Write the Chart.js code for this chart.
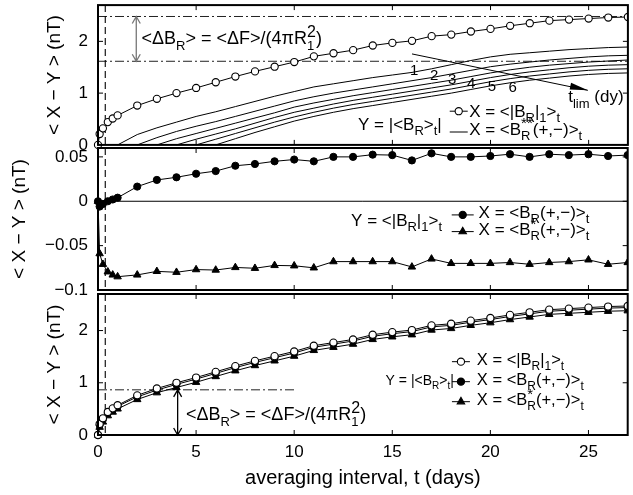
<!DOCTYPE html>
<html lang="en">
<head>
<meta charset="UTF-8">
<title>X - Y averages</title>
<script src="https://cdn.jsdelivr.net/npm/chart.js"></script>
<style>
  body { margin: 0; background: #fff; }
  #wrap { position: relative; width: 633px; height: 495px; }
  canvas { position: absolute; left: 0; }
</style>
</head>
<body>
<div id="wrap">
  <canvas id="top" width="633" height="150" style="top:0"></canvas>
  <canvas id="mid" width="633" height="160" style="top:140px"></canvas>
  <canvas id="bot" width="633" height="210" style="top:285px"></canvas>
</div>
<script>
// averaging interval t (days)
const tDays = [0, 0.083, 0.25, 0.5, 0.75, 1, 2, 3, 4, 5, 6, 7, 8, 9, 10, 11, 12, 13, 14, 15, 16, 17, 18, 19, 20, 21, 22, 23, 24, 25, 26, 27];
// X = <|B_R|_1>_t  (open circles, top and bottom panels)
const openVals = [0, 0.21, 0.32, 0.44, 0.51, 0.57, 0.76, 0.89, 1.0, 1.10, 1.21, 1.32, 1.42, 1.51, 1.60, 1.71, 1.77, 1.83, 1.92, 1.97, 2.01, 2.10, 2.13, 2.19, 2.24, 2.30, 2.35, 2.40, 2.42, 2.44, 2.46, 2.47];
// bottom panel: X = <B_R(+,-)>_t and X = <B_R*(+,-)>_t
const filledBot = [0, 0.19, 0.30, 0.42, 0.49, 0.55, 0.73, 0.86, 0.97, 1.07, 1.18, 1.29, 1.39, 1.48, 1.57, 1.68, 1.74, 1.80, 1.89, 1.94, 1.98, 2.07, 2.10, 2.16, 2.21, 2.27, 2.32, 2.37, 2.39, 2.41, 2.43, 2.44];
const triBot = [0, 0.15, 0.25, 0.37, 0.44, 0.50, 0.68, 0.81, 0.91, 1.01, 1.12, 1.23, 1.33, 1.42, 1.51, 1.62, 1.68, 1.74, 1.83, 1.88, 1.92, 2.01, 2.04, 2.10, 2.15, 2.21, 2.26, 2.31, 2.33, 2.35, 2.37, 2.38];
// middle panel, Y = <|B_R|_1>_t
const filledMid = [0, -0.006, -0.003, 0.0, 0.002, 0.004, 0.0165, 0.024, 0.027, 0.031, 0.034, 0.040, 0.042, 0.045, 0.047, 0.045, 0.050, 0.050, 0.0525, 0.052, 0.046, 0.054, 0.050, 0.050, 0.051, 0.053, 0.050, 0.053, 0.052, 0.053, 0.051, 0.052];
const triMid = [0, -0.059, -0.071, -0.0795, -0.083, -0.085, -0.083, -0.079, -0.080, -0.077, -0.0775, -0.0746, -0.0755, -0.0723, -0.0727, -0.075, -0.068, -0.068, -0.068, -0.068, -0.074, -0.065, -0.070, -0.070, -0.070, -0.069, -0.071, -0.069, -0.068, -0.066, -0.071, -0.069];

// X = <B_R**(+,-)>_t for t_lim = 1..6 (top panel thin lines)
const tFam = [1, 2, 3, 4, 5, 6, 7, 8, 9, 10, 11, 12, 13, 14, 15, 16, 17, 18, 19, 20, 21, 22, 23, 24, 25, 26, 27];
const fam1 = [0, 0.20, 0.33, 0.44, 0.55, 0.64, 0.74, 0.84, 0.94, 1.03, 1.12, 1.18, 1.24, 1.30, 1.35, 1.40, 1.47, 1.55, 1.63, 1.70, 1.75, 1.78, 1.81, 1.84, 1.86, 1.88, 1.89];
const fam2 = [null, 0, 0.14, 0.26, 0.36, 0.45, 0.55, 0.65, 0.75, 0.85, 0.93, 1.00, 1.06, 1.12, 1.18, 1.24, 1.30, 1.37, 1.44, 1.51, 1.56, 1.60, 1.64, 1.67, 1.70, 1.72, 1.73];
const fam3 = [null, null, 0, 0.12, 0.22, 0.32, 0.42, 0.52, 0.62, 0.73, 0.81, 0.88, 0.95, 1.01, 1.07, 1.13, 1.19, 1.25, 1.32, 1.39, 1.45, 1.50, 1.54, 1.57, 1.60, 1.62, 1.64];
const fam4 = [null, null, null, 0, 0.11, 0.21, 0.31, 0.42, 0.53, 0.63, 0.71, 0.79, 0.86, 0.92, 0.98, 1.04, 1.10, 1.16, 1.23, 1.30, 1.36, 1.41, 1.45, 1.49, 1.52, 1.54, 1.55];
const fam5 = [null, null, null, null, 0, 0.11, 0.22, 0.33, 0.44, 0.54, 0.63, 0.71, 0.78, 0.84, 0.90, 0.96, 1.02, 1.08, 1.15, 1.22, 1.28, 1.33, 1.37, 1.41, 1.44, 1.46, 1.47];
const fam6 = [null, null, null, null, null, 0, 0.12, 0.24, 0.35, 0.46, 0.55, 0.63, 0.70, 0.76, 0.82, 0.88, 0.94, 1.00, 1.07, 1.14, 1.20, 1.25, 1.29, 1.33, 1.36, 1.38, 1.39];
const famLabels = ['1', '2', '3', '4', '5', '6'];
const famLabelPos = [[16.11, 1.437], [17.13, 1.341], [18.05, 1.264], [19.01, 1.188], [20.07, 1.130], [21.13, 1.092]];

// ticks
const xTicks = [0, 5, 10, 15, 20, 25];
const yTicksTop = [0, 1, 2];
const yTicksMid = [-0.1, -0.05, 0, 0.05];
const yTicksBot = [0, 1, 2];

// reference marks
const tMark = 0.37;              // vertical dashed line
const dBTop = [2.48, 1.615];     // dash-dot levels, top panel
const dBBot = 0.865;             // dash-dot level, bottom panel
const tArrowTop = 1.95, tArrowBot = 4.06, tDashEnd = 10;
const tlimArrow = [[16.0, 1.757], [24.96, 1.054]];

const FF = '"Liberation Sans", Arial, Helvetica, sans-serif';
Chart.defaults.font.family = FF;
Chart.defaults.color = '#000';

const pts = (xs, ys) => xs.map((x, i) => ({ x: x, y: ys[i] }));

// text with sub/superscripts; parts: [text, 'n' | 'b' (sub) | 'p' (sup) | 'bp' (sub|sup)]
function rich(ctx, x, y, parts, size) {
  const small = Math.round(size * 0.74);
  let cx = x;
  ctx.textAlign = 'left';
  ctx.textBaseline = 'alphabetic';
  parts.forEach(([txt, mode]) => {
    if (mode === 'n') {
      ctx.font = size + 'px ' + FF;
      ctx.fillText(txt, cx, y);
      cx += ctx.measureText(txt).width;
    } else if (mode === 'b' || mode === 'p') {
      ctx.font = small + 'px ' + FF;
      ctx.fillText(txt, cx, y + (mode === 'b' ? size * 0.32 : -size * 0.42));
      cx += ctx.measureText(txt).width;
    } else {
      const [lo, hi] = txt.split('|');
      ctx.font = small + 'px ' + FF;
      ctx.fillText(lo, cx, y + size * 0.32);
      const wLo = ctx.measureText(lo).width;
      ctx.font = Math.round(size * 0.9) + 'px ' + FF;
      ctx.fillText(hi, cx, y - size * 0.38);
      cx += Math.max(wLo, ctx.measureText(hi).width);
    }
  });
  return cx;
}

function marker(ctx, x, y, kind) {
  ctx.save();
  ctx.lineWidth = 1.1;
  ctx.strokeStyle = '#000';
  ctx.beginPath();
  if (kind === 'tri') {
    const r = 4.3;
    ctx.moveTo(x, y - r);
    ctx.lineTo(x + 0.866 * r, y + 0.5 * r);
    ctx.lineTo(x - 0.866 * r, y + 0.5 * r);
    ctx.closePath();
  } else {
    ctx.arc(x, y, 3.6, 0, Math.PI * 2);
  }
  ctx.fillStyle = kind === 'open' ? '#fff' : '#000';
  ctx.fill();
  ctx.stroke();
  ctx.restore();
}

// legend symbol: short line with marker
function legendSym(ctx, x, y, kind, half) {
  ctx.save();
  ctx.strokeStyle = '#000';
  ctx.lineWidth = 1;
  ctx.beginPath();
  ctx.moveTo(x - half, y);
  ctx.lineTo(x + half, y);
  ctx.stroke();
  ctx.restore();
  if (kind) marker(ctx, x, y, kind);
}

function hLine(chart, v, t0, t1, dash, color) {
  const { ctx, scales: { x, y } } = chart;
  ctx.save();
  ctx.strokeStyle = color;
  ctx.lineWidth = 1;
  ctx.setLineDash(dash);
  ctx.beginPath();
  ctx.moveTo(x.getPixelForValue(t0), y.getPixelForValue(v));
  ctx.lineTo(x.getPixelForValue(t1), y.getPixelForValue(v));
  ctx.stroke();
  ctx.restore();
}

function vDashed(chart) {
  const { ctx, chartArea: a, scales: { x } } = chart;
  const px = x.getPixelForValue(tMark);
  ctx.save();
  ctx.strokeStyle = '#000';
  ctx.lineWidth = 1.1;
  ctx.setLineDash([7, 4]);
  ctx.beginPath();
  ctx.moveTo(px, a.top);
  ctx.lineTo(px, a.bottom);
  ctx.stroke();
  ctx.restore();
}

function dblArrow(chart, t, v0, v1, color) {
  const { ctx, scales: { x, y } } = chart;
  const px = x.getPixelForValue(t);
  const pa = y.getPixelForValue(v0), pb = y.getPixelForValue(v1);
  ctx.save();
  ctx.strokeStyle = color;
  ctx.lineWidth = 1.3;
  ctx.beginPath();
  ctx.moveTo(px, pa); ctx.lineTo(px, pb);
  ctx.moveTo(px - 4, pa + 7); ctx.lineTo(px, pa); ctx.lineTo(px + 4, pa + 7);
  ctx.moveTo(px - 4, pb - 7); ctx.lineTo(px, pb); ctx.lineTo(px + 4, pb - 7);
  ctx.stroke();
  ctx.restore();
}

function frame(chart, yTicks) {
  const { ctx, chartArea: a, scales: { x, y } } = chart;
  ctx.save();
  ctx.strokeStyle = '#000';
  ctx.lineWidth = 1;
  ctx.beginPath();
  xTicks.forEach(v => {
    if (v === 0) return;
    const px = x.getPixelForValue(v);
    ctx.moveTo(px, a.top); ctx.lineTo(px, a.top + 5);
    ctx.moveTo(px, a.bottom); ctx.lineTo(px, a.bottom - 5);
  });
  yTicks.forEach(v => {
    const py = y.getPixelForValue(v);
    ctx.moveTo(a.left, py); ctx.lineTo(a.left + 5, py);
    ctx.moveTo(a.right, py); ctx.lineTo(a.right - 5, py);
  });
  ctx.stroke();
  ctx.lineWidth = 2;
  ctx.strokeRect(a.left, a.top, a.right - a.left, a.bottom - a.top);
  ctx.restore();
}

const dBParts = [['<ΔB', 'n'], ['R', 'b'], ['> = <ΔF>/(4πR', 'n'], ['1|2', 'bp'], [')', 'n']];
const txtOpen = [['X = <|B', 'n'], ['R', 'b'], ['|', 'n'], ['1', 'b'], ['>', 'n'], ['t', 'b']];
const txtFam = [['X = <B', 'n'], ['R|**', 'bp'], ['(+,−)>', 'n'], ['t', 'b']];
const txtFilled = [['X = <B', 'n'], ['R', 'b'], ['(+,−)>', 'n'], ['t', 'b']];
const txtTri = [['X = <B', 'n'], ['R|*', 'bp'], ['(+,−)>', 'n'], ['t', 'b']];
const txtYabs = [['Y = |<B', 'n'], ['R', 'b'], ['>', 'n'], ['t', 'b'], ['|', 'n']];
const txtYmid = [['Y = <|B', 'n'], ['R', 'b'], ['|', 'n'], ['1', 'b'], ['>', 'n'], ['t', 'b']];
const txtTlim = [['t', 'n'], ['lim', 'b'], [' (dy)', 'n']];

function makeOptions(cfg) {
  return {
    responsive: false,
    animation: false,
    events: [],
    layout: { padding: { left: cfg.padLeft, right: 1, top: cfg.padTop, bottom: cfg.padBottom } },
    plugins: { legend: { display: false }, tooltip: { enabled: false } },
    scales: {
      x: {
        type: 'linear', min: 0, max: 27,
        display: cfg.showX,
        afterBuildTicks: s => { s.ticks = xTicks.map(v => ({ value: v })); },
        grid: { display: false, drawTicks: false },
        border: { display: false },
        ticks: { padding: 7, color: '#000', font: { size: 17 }, maxRotation: 0, callback: v => String(v) },
        title: { display: cfg.showX, text: 'averaging interval, t (days)', color: '#000', font: { size: 20 }, padding: 0 },
        afterFit: s => { if (cfg.showX) { s.height = cfg.xHeight; } s.paddingLeft = 0; s.paddingRight = 0; }
      },
      y: {
        type: 'linear', min: cfg.yMin, max: cfg.yMax,
        afterBuildTicks: s => { s.ticks = cfg.yTicks.map(v => ({ value: v })); },
        grid: { display: false, drawTicks: false },
        border: { display: false },
        ticks: { padding: 10, color: '#000', font: { size: 17 }, callback: v => (v === 0 ? '0' : String(v).replace('-', '−')) },
        title: { display: true, text: '< X − Y > (nT)', color: '#000', font: { size: 19 }, padding: 0 },
        afterFit: s => { s.width = 98 - cfg.padLeft; s.paddingTop = 0; s.paddingBottom = 0; }
      }
    }
  };
}

const clipArea = { left: 6, top: 6, right: 0, bottom: 6 };
const openStyle = { borderColor: '#000', borderWidth: 1, pointRadius: 3.6, pointBackgroundColor: '#fff', pointBorderColor: '#000', pointBorderWidth: 1.1, clip: clipArea };
const filledStyle = { borderColor: '#000', borderWidth: 1, pointRadius: 3.6, pointBackgroundColor: '#000', pointBorderColor: '#000', pointBorderWidth: 1, clip: clipArea };
const triStyle = { borderColor: '#000', borderWidth: 1, pointStyle: 'triangle', pointRadius: 4.3, pointBackgroundColor: '#000', pointBorderColor: '#000', pointBorderWidth: 1, clip: clipArea };
const famStyle = { borderColor: '#000', borderWidth: 1, pointRadius: 0, spanGaps: false, clip: clipArea };

// ---- top panel
new Chart(document.getElementById('top'), {
  type: 'line',
  data: {
    datasets: [
      Object.assign({ data: pts(tDays, openVals) }, openStyle),
      ...[fam1, fam2, fam3, fam4, fam5, fam6].map(f => Object.assign({ data: pts(tFam, f) }, famStyle))
    ]
  },
  options: makeOptions({ padLeft: 43, padTop: 4, padBottom: 5, showX: false, yMin: 0, yMax: 2.7, yTicks: yTicksTop }),
  plugins: [{
    id: 'decorTop',
    beforeDatasetsDraw(chart) {
      dBTop.forEach(v => hLine(chart, v, 0, 27, [9, 3, 2, 3], '#222'));
      vDashed(chart);
    },
    afterDatasetsDraw(chart) {
      const { ctx, scales: { x, y } } = chart;
      dblArrow(chart, tArrowTop, dBTop[0], dBTop[1], '#777');
      ctx.fillStyle = '#000';
      rich(ctx, x.getPixelForValue(2.22), y.getPixelForValue(1.948), dBParts, 18);
      // t_lim arrow
      const [p0, p1] = tlimArrow.map(p => [x.getPixelForValue(p[0]), y.getPixelForValue(p[1])]);
      ctx.save();
      ctx.strokeStyle = '#000'; ctx.lineWidth = 1;
      ctx.beginPath(); ctx.moveTo(p0[0], p0[1]); ctx.lineTo(p1[0], p1[1]); ctx.stroke();
      const ang = Math.atan2(p1[1] - p0[1], p1[0] - p0[0]);
      ctx.translate(p1[0], p1[1]); ctx.rotate(ang);
      ctx.beginPath(); ctx.moveTo(0, 0); ctx.lineTo(-18, -4); ctx.lineTo(-18, 3); ctx.closePath();
      ctx.fillStyle = '#000'; ctx.fill();
      ctx.restore();
      ctx.fillStyle = '#000';
      rich(ctx, x.getPixelForValue(23.96), y.getPixelForValue(0.824), txtTlim, 17);
      // t_lim labels
      ctx.font = '15px ' + FF; ctx.textAlign = 'center'; ctx.textBaseline = 'middle';
      famLabels.forEach((l, i) => ctx.fillText(l, x.getPixelForValue(famLabelPos[i][0]), y.getPixelForValue(famLabelPos[i][1])));
      // legend
      legendSym(ctx, x.getPixelForValue(18.38), y.getPixelForValue(0.651), 'open', 9);
      legendSym(ctx, x.getPixelForValue(18.38), y.getPixelForValue(0.249), null, 9);
      ctx.fillStyle = '#000';
      rich(ctx, x.getPixelForValue(18.91), y.getPixelForValue(0.542), txtOpen, 17);
      rich(ctx, x.getPixelForValue(18.91), y.getPixelForValue(0.192), txtFam, 17);
      rich(ctx, x.getPixelForValue(13.25), y.getPixelForValue(0.287), txtYabs, 17);
      frame(chart, yTicksTop);
    }
  }]
});

// ---- middle panel
new Chart(document.getElementById('mid'), {
  type: 'line',
  data: {
    datasets: [
      Object.assign({ data: pts(tDays, filledMid) }, filledStyle),
      Object.assign({ data: pts(tDays, triMid) }, triStyle)
    ]
  },
  options: makeOptions({ padLeft: 8, padTop: 8, padBottom: 10, showX: false, yMin: -0.1, yMax: 0.06, yTicks: yTicksMid }),
  plugins: [{
    id: 'decorMid',
    beforeDatasetsDraw(chart) {
      hLine(chart, 0, 0, 27, [], '#000');
      vDashed(chart);
    },
    afterDatasetsDraw(chart) {
      const { ctx, scales: { x, y } } = chart;
      ctx.fillStyle = '#000';
      rich(ctx, x.getPixelForValue(12.9), y.getPixelForValue(-0.0278), txtYmid, 17);
      legendSym(ctx, x.getPixelForValue(18.59), y.getPixelForValue(-0.0154), 'filled', 11);
      legendSym(ctx, x.getPixelForValue(18.59), y.getPixelForValue(-0.0342), 'tri', 11);
      ctx.fillStyle = '#000';
      rich(ctx, x.getPixelForValue(19.4), y.getPixelForValue(-0.0185), txtFilled, 17);
      rich(ctx, x.getPixelForValue(19.4), y.getPixelForValue(-0.038), txtTri, 17);
      frame(chart, yTicksMid);
    }
  }]
});

// ---- bottom panel
new Chart(document.getElementById('bot'), {
  type: 'line',
  data: {
    datasets: [
      Object.assign({ data: pts(tDays, openVals) }, openStyle),
      Object.assign({ data: pts(tDays, filledBot) }, filledStyle),
      Object.assign({ data: pts(tDays, triBot) }, triStyle)
    ]
  },
  options: makeOptions({ padLeft: 43, padTop: 9, padBottom: 5, showX: true, xHeight: 55, yMin: 0, yMax: 2.7, yTicks: yTicksBot }),
  plugins: [{
    id: 'decorBot',
    beforeDatasetsDraw(chart) {
      hLine(chart, dBBot, 0, tDashEnd, [9, 3, 2, 3], '#222');
      vDashed(chart);
    },
    afterDatasetsDraw(chart) {
      const { ctx, scales: { x, y } } = chart;
      dblArrow(chart, tArrowBot, dBBot, 0, '#000');
      ctx.fillStyle = '#000';
      rich(ctx, x.getPixelForValue(4.48), y.getPixelForValue(0.287), dBParts, 18);
      legendSym(ctx, x.getPixelForValue(18.5), y.getPixelForValue(1.404), 'open', 9);
      legendSym(ctx, x.getPixelForValue(18.5), y.getPixelForValue(1.021), 'filled', 9);
      legendSym(ctx, x.getPixelForValue(18.5), y.getPixelForValue(0.638), 'tri', 9);
      ctx.fillStyle = '#000';
      rich(ctx, x.getPixelForValue(19.31), y.getPixelForValue(1.341), txtOpen, 16.5);
      rich(ctx, x.getPixelForValue(19.31), y.getPixelForValue(0.958), txtFilled, 16.5);
      rich(ctx, x.getPixelForValue(19.31), y.getPixelForValue(0.575), txtTri, 16.5);
      rich(ctx, x.getPixelForValue(14.66), y.getPixelForValue(0.958), txtYabs, 14);
      frame(chart, yTicksBot);
    }
  }]
});
</script>
</body>
</html>
